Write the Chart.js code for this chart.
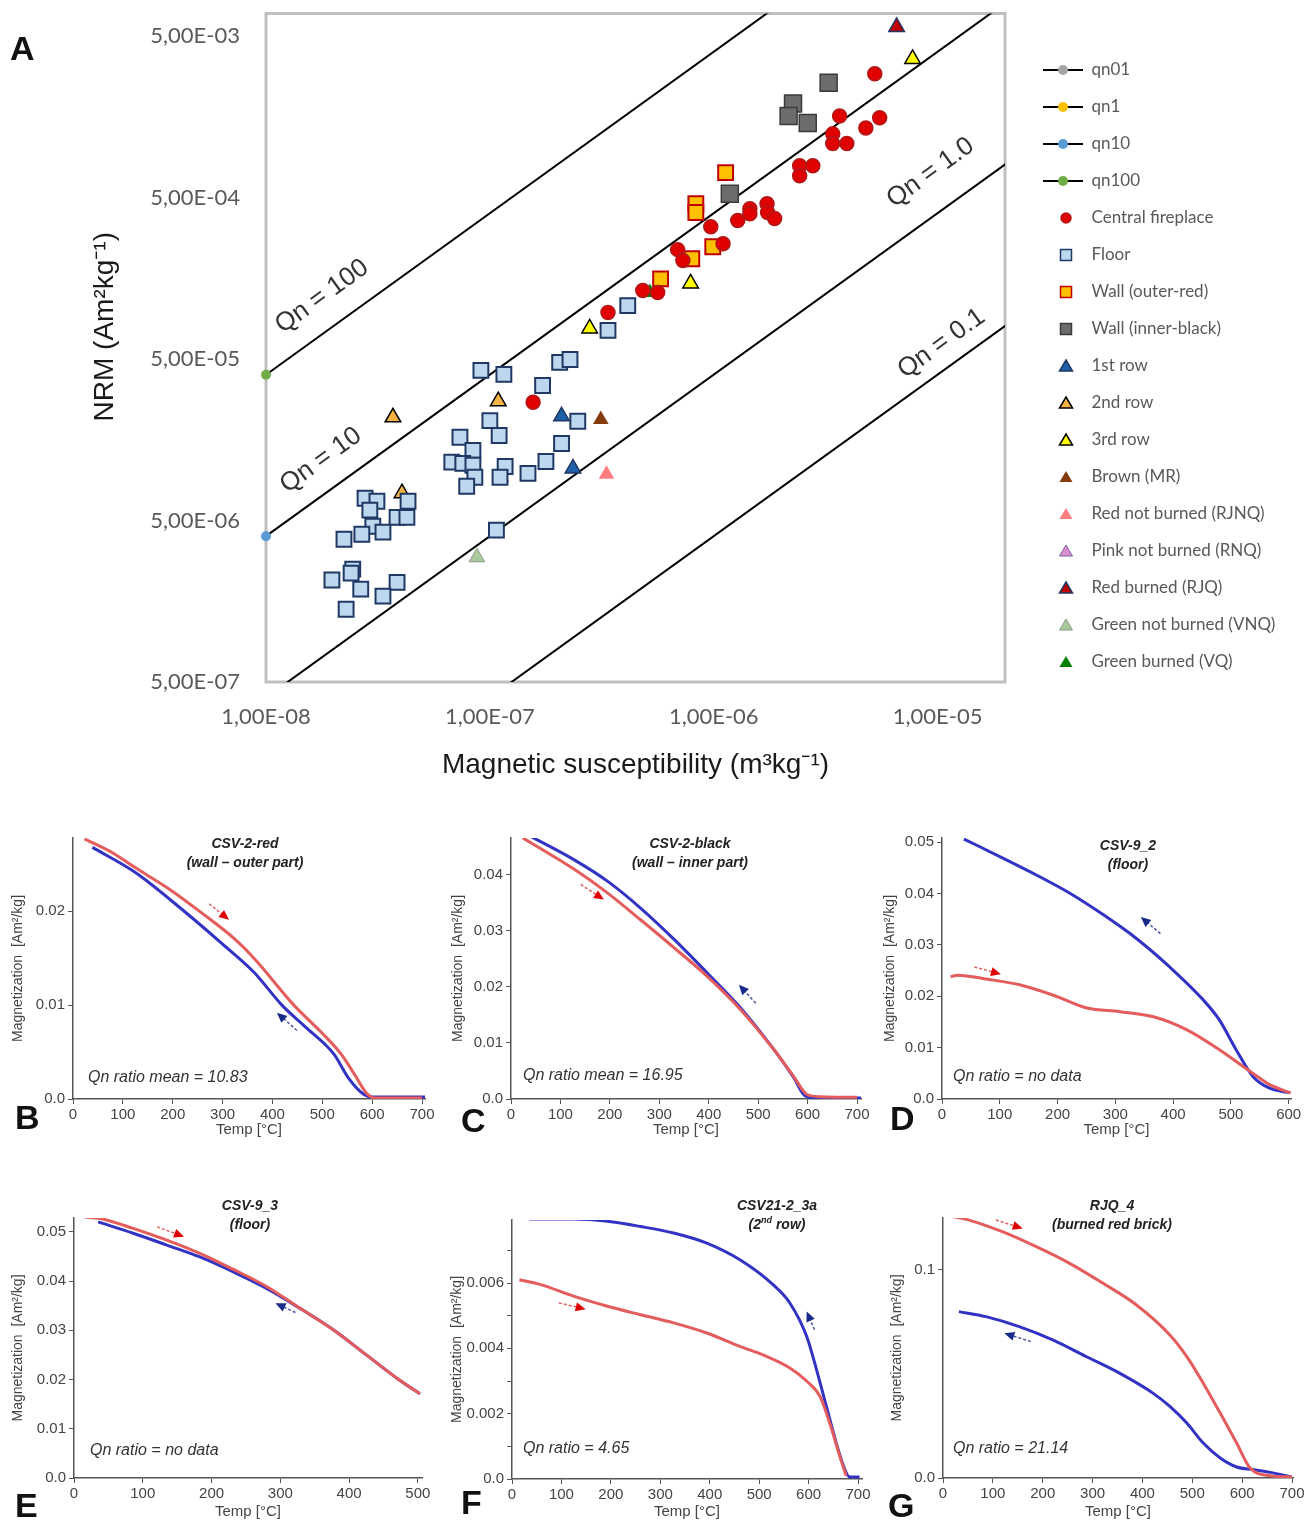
<!DOCTYPE html>
<html>
<head>
<meta charset="utf-8">
<script src="https://cdn.jsdelivr.net/npm/chart.js@4.4.1/dist/chart.umd.min.js"></script>
<style>
  body { margin: 0; background: #fff; font-family: "Liberation Sans", Arial, sans-serif; }
  #page { position: relative; width: 1311px; height: 1523px; overflow: hidden; }
  canvas { position: absolute; }
  .letter { position: absolute; font: bold 34px/34px "Liberation Sans", Arial, sans-serif; color: #111; }
  .sample { position: absolute; transform: translateX(-50%); font: italic bold 14px/19px "Liberation Sans", Arial, sans-serif; color: #222; text-align: center; white-space: nowrap; }
  .ratio { position: absolute; font: italic 16px/18px "Liberation Sans", Arial, sans-serif; color: #333; white-space: nowrap; }
</style>
</head>
<body>
<div id="page">
  <canvas id="chartA" width="1311" height="800" style="left:0px;top:0px"></canvas>
  <canvas id="chartB" width="440" height="320" style="left:0px;top:820px"></canvas>
  <canvas id="chartC" width="440" height="320" style="left:440px;top:820px"></canvas>
  <canvas id="chartD" width="441" height="320" style="left:870px;top:820px"></canvas>
  <canvas id="chartE" width="440" height="333" style="left:0px;top:1190px"></canvas>
  <canvas id="chartF" width="440" height="333" style="left:440px;top:1190px"></canvas>
  <canvas id="chartG" width="441" height="333" style="left:870px;top:1190px"></canvas>

  <div class="letter" style="left:10px;top:31px">A</div>
  <div class="letter" style="left:15px;top:1100px">B</div>
  <div class="letter" style="left:461px;top:1103px">C</div>
  <div class="letter" style="left:890px;top:1101px">D</div>
  <div class="letter" style="left:15px;top:1488px">E</div>
  <div class="letter" style="left:461px;top:1485px">F</div>
  <div class="letter" style="left:888px;top:1488px">G</div>

  <div class="sample" style="left:245px;top:834px">CSV-2-red<br>(wall – outer part)</div>
  <div class="sample" style="left:690px;top:834px">CSV-2-black<br>(wall – inner part)</div>
  <div class="sample" style="left:1128px;top:836px">CSV-9_2<br>(floor)</div>
  <div class="sample" style="left:250px;top:1196px">CSV-9_3<br>(floor)</div>
  <div class="sample" style="left:777px;top:1196px">CSV21-2_3a<br>(2<sup style="font-size:9px;line-height:0">nd</sup> row)</div>
  <div class="sample" style="left:1112px;top:1196px">RJQ_4<br>(burned red brick)</div>

  <div class="ratio" style="left:88px;top:1068px">Qn ratio mean = 10.83</div>
  <div class="ratio" style="left:523px;top:1066px">Qn ratio mean = 16.95</div>
  <div class="ratio" style="left:953px;top:1067px">Qn ratio = no data</div>
  <div class="ratio" style="left:90px;top:1441px">Qn ratio = no data</div>
  <div class="ratio" style="left:523px;top:1439px">Qn ratio = 4.65</div>
  <div class="ratio" style="left:953px;top:1439px">Qn ratio = 21.14</div>
</div>
<script>
// ---- panel A: magnetic susceptibility (m3/kg) vs NRM (Am2/kg)
const susceptibilityTicks = [1e-8, 1e-7, 1e-6, 1e-5];
const nrmTicks = [5e-7, 5e-6, 5e-5, 5e-4, 5e-3];

// Qn reference lines, end points [chi, NRM]
const qn01Line = [[1e-8, 4e-8], [1e-4, 4e-4]];
const qn1Line = [[1e-8, 4e-7], [1e-4, 4e-3]];
const qn10Line = [[1e-8, 4e-6], [1e-4, 4e-2]];
const qn100Line = [[1e-8, 4e-5], [1e-5, 4e-2]];

const centralFireplace = [
  [1.56e-7, 2.70e-5], [3.37e-7, 9.7e-5], [4.82e-7, 1.33e-4], [5.62e-7, 1.29e-4],
  [6.9e-7, 2.38e-4], [7.28e-7, 2.04e-4], [9.7e-7, 3.30e-4], [1.10e-6, 2.59e-4],
  [1.28e-6, 3.60e-4], [1.45e-6, 4.27e-4], [1.45e-6, 3.97e-4], [1.73e-6, 4.58e-4],
  [1.74e-6, 4.04e-4], [1.87e-6, 3.71e-4], [2.42e-6, 7.87e-4], [2.77e-6, 7.87e-4],
  [2.42e-6, 6.82e-4], [3.40e-6, 1.24e-3], [3.40e-6, 1.08e-3], [3.93e-6, 1.08e-3],
  [3.65e-6, 1.60e-3], [4.78e-6, 1.35e-3], [5.51e-6, 1.56e-3], [5.24e-6, 2.92e-3]
];
const floor = [
  [9.12e-8, 4.25e-5], [1.155e-7, 4.02e-5], [2.05e-7, 4.77e-5], [2.28e-7, 4.97e-5],
  [1.72e-7, 3.43e-5], [1.0e-7, 2.08e-5], [1.10e-7, 1.68e-5], [2.47e-7, 2.06e-5],
  [7.35e-8, 1.64e-5], [8.4e-8, 1.36e-5], [6.76e-8, 1.15e-5], [7.57e-8, 1.13e-5],
  [8.4e-8, 1.10e-5], [8.57e-8, 9.27e-6], [7.88e-8, 8.15e-6], [1.17e-7, 1.08e-5],
  [1.11e-7, 9.27e-6], [1.48e-7, 9.8e-6], [1.78e-7, 1.16e-5], [2.09e-7, 1.50e-5],
  [2.77e-8, 6.87e-6], [3.13e-8, 6.58e-6], [2.91e-8, 5.8e-6], [4.31e-8, 6.58e-6],
  [3.85e-8, 5.23e-6], [4.26e-8, 5.23e-6], [3.0e-8, 4.61e-6], [2.68e-8, 4.11e-6],
  [3.33e-8, 4.24e-6], [2.23e-8, 3.83e-6], [1.07e-7, 4.36e-6], [2.44e-8, 2.50e-6],
  [2.4e-8, 2.36e-6], [1.97e-8, 2.14e-6], [2.65e-8, 1.88e-6], [3.85e-8, 2.07e-6],
  [3.33e-8, 1.70e-6], [2.28e-8, 1.41e-6], [4.13e-7, 1.07e-4], [3.37e-7, 7.52e-5]
];
const wallOuterRed = [
  [1.13e-6, 7.13e-4], [8.32e-7, 4.58e-4], [8.32e-7, 4.04e-4], [9.9e-7, 2.48e-4],
  [7.98e-7, 2.09e-4], [5.79e-7, 1.57e-4]
];
const wallInnerBlack = [
  [3.26e-6, 2.57e-3], [2.26e-6, 1.91e-3], [2.16e-6, 1.60e-3], [2.63e-6, 1.45e-3], [1.18e-6, 5.28e-4]
];
const row1 = [[2.09e-7, 2.21e-5], [2.35e-7, 1.05e-5]];
const row2 = [[3.69e-8, 2.18e-5], [1.09e-7, 2.74e-5], [4.05e-8, 7.38e-6]];
const row3 = [[2.79e-7, 7.73e-5], [7.88e-7, 1.47e-4], [7.73e-6, 3.61e-3]];
const brownMR = [[3.13e-7, 2.11e-5]];
const redNotBurned = [[3.32e-7, 9.66e-6]];
const pinkNotBurned = [[1.12e-7, 9.27e-6]];
const redBurned = [[6.56e-6, 5.70e-3]];
const greenNotBurned = [[8.75e-8, 2.96e-6]];
const greenBurned = [[5.18e-7, 1.29e-4]];

// ---- panels B-G: thermomagnetic curves, temperature (°C) and magnetization (Am2/kg)
const temp700Ticks = [0, 100, 200, 300, 400, 500, 600, 700];
const temp600Ticks = [0, 100, 200, 300, 400, 500, 600];
const temp500Ticks = [0, 100, 200, 300, 400, 500];
const bMagTicks = [0, 0.01, 0.02];
const cMagTicks = [0, 0.01, 0.02, 0.03, 0.04];
const dMagTicks = [0, 0.01, 0.02, 0.03, 0.04, 0.05];
const eMagTicks = [0, 0.01, 0.02, 0.03, 0.04, 0.05];
const fMagTicks = [0, 0.001, 0.002, 0.003, 0.004, 0.005, 0.006, 0.007];
const gMagTicks = [0, 0.1];

const bHeatT = [23, 80, 123, 189, 256, 323, 363, 443, 500, 539, 566, 589, 605, 650, 700];
const bHeatM = [0.0277, 0.0262, 0.0247, 0.0225, 0.0199, 0.0171, 0.0150, 0.0100, 0.0070, 0.0047, 0.0025, 0.0006, 0.0001, 0.0001, 0.0001];
const bCoolT = [39, 123, 223, 300, 363, 419, 470, 523, 553, 583, 600, 650, 706];
const bCoolM = [0.0268, 0.0242, 0.0200, 0.0165, 0.0135, 0.0100, 0.0075, 0.0048, 0.0022, 0.0005, 0.0002, 0.0002, 0.0002];

const cHeatT = [24, 128, 195, 262, 330, 397, 464, 532, 572, 599, 626, 700];
const cHeatM = [0.0466, 0.0410, 0.0368, 0.0320, 0.0270, 0.0219, 0.0160, 0.0088, 0.0040, 0.0008, 0.0004, 0.0003];
const cCoolT = [42, 128, 195, 262, 330, 397, 464, 532, 572, 596, 620, 708];
const cCoolM = [0.0468, 0.0427, 0.0389, 0.0341, 0.0285, 0.0225, 0.0163, 0.0088, 0.0038, 0.0005, 0.0002, 0.0002];

const dHeatT = [15, 27, 79, 136, 193, 251, 308, 366, 423, 480, 538, 567, 603];
const dHeatM = [0.0238, 0.0241, 0.0233, 0.0222, 0.0202, 0.0177, 0.0170, 0.0160, 0.0135, 0.0096, 0.0050, 0.0028, 0.0012];
const dCoolT = [38, 107, 165, 222, 280, 337, 394, 452, 480, 509, 538, 567, 603];
const dCoolM = [0.0506, 0.0468, 0.0435, 0.0400, 0.0358, 0.0312, 0.0257, 0.0193, 0.0154, 0.0096, 0.0044, 0.0021, 0.0012];

const eHeatT = [16, 38, 86, 135, 183, 231, 280, 328, 377, 425, 473, 503];
const eHeatM = [0.0530, 0.0527, 0.0507, 0.0483, 0.0456, 0.0424, 0.0389, 0.0345, 0.0301, 0.0250, 0.0199, 0.0171];
const eCoolT = [35, 86, 135, 183, 231, 280, 328, 377, 425, 473, 503];
const eCoolM = [0.0520, 0.0497, 0.0473, 0.0449, 0.0419, 0.0385, 0.0345, 0.0301, 0.0250, 0.0199, 0.0171];

const fHeatT = [15, 58, 126, 193, 260, 327, 394, 461, 508, 562, 596, 623, 643, 663, 676];
const fHeatM = [0.0061, 0.00595, 0.00559, 0.00529, 0.00503, 0.00478, 0.00447, 0.00406, 0.0038, 0.0034, 0.0030, 0.00253, 0.0017, 0.0007, 0.0001];
const fCoolT = [35, 126, 193, 260, 327, 394, 461, 528, 562, 596, 616, 636, 656, 673, 683, 703];
const fCoolM = [0.00796, 0.00796, 0.00789, 0.00773, 0.00753, 0.00722, 0.00671, 0.00595, 0.00539, 0.00437, 0.00335, 0.00222, 0.0011, 0.0003, 0.00006, 0.00006];

const gHeatT = [15, 52, 119, 187, 254, 321, 388, 455, 489, 522, 556, 589, 616, 656, 700];
const gHeatM = [0.1259, 0.1240, 0.1184, 0.1112, 0.1032, 0.0936, 0.0832, 0.0688, 0.0584, 0.0456, 0.0312, 0.0168, 0.0048, 0.0011, 0.0005];
const gCoolT = [32, 86, 153, 220, 287, 354, 421, 455, 489, 522, 556, 589, 623, 656, 700];
const gCoolM = [0.0800, 0.0776, 0.0728, 0.0664, 0.0584, 0.0504, 0.0408, 0.0344, 0.0264, 0.0168, 0.0096, 0.0053, 0.0040, 0.0027, 0.0005];

const RED = '#E45C5C';
const BLUE = '#3232C4';

// "5e-7" -> "5,00E-07"
function sci(v) {
  const [m, e] = v.toExponential(2).split('e');
  const n = Math.abs(+e);
  return m.replace('.', ',') + 'E' + (+e < 0 ? '-' : '+') + (n < 10 ? '0' : '') + n;
}

const xy = pairs => pairs.map(p => ({x: p[0], y: p[1]}));

function qnSet(label, pairs, dot) {
  return {
    label: label, type: 'line', data: xy(pairs), order: 1,
    borderColor: '#000', borderWidth: 2, pointRadius: [5, 0],
    pointBackgroundColor: dot, pointBorderWidth: 0,
    clip: {left: 10, top: 0, right: 0, bottom: 0},
    icon: 'line', iconColor: dot
  };
}

function markSet(label, pairs, style, radius, fill, stroke, lw) {
  return {
    label: label, data: xy(pairs), pointStyle: style, pointRadius: radius,
    backgroundColor: fill, borderColor: stroke, borderWidth: lw,
    icon: style, iconColor: fill, iconStroke: stroke, iconLw: lw
  };
}

// legend marker: 58px wide, the first 18px left empty
const ICON_W = 58;
function legendIcon(ds) {
  const c = document.createElement('canvas');
  c.width = ICON_W; c.height = 18;
  const g = c.getContext('2d');
  if (ds.icon === 'line') {
    g.strokeStyle = '#000'; g.lineWidth = 2;
    g.beginPath(); g.moveTo(18, 9); g.lineTo(58, 9); g.stroke();
    g.fillStyle = ds.iconColor;
    g.beginPath(); g.arc(38, 9, 5, 0, Math.PI * 2); g.fill();
    return c;
  }
  g.fillStyle = ds.iconColor; g.strokeStyle = ds.iconStroke; g.lineWidth = Math.min(ds.iconLw, 1.5);
  g.beginPath();
  if (ds.icon === 'circle') g.arc(41, 9, 5, 0, Math.PI * 2);
  else if (ds.icon === 'rect') g.rect(35.5, 3.5, 11, 11);
  else { g.moveTo(41, 3); g.lineTo(47.5, 14); g.lineTo(34.5, 14); g.closePath(); }
  g.fill();
  if (ds.iconLw) g.stroke();
  return c;
}

const framePlugin = {
  id: 'frame',
  beforeDatasetsDraw(chart) {
    const a = chart.chartArea, g = chart.ctx;
    g.save();
    g.strokeStyle = '#BFBFBF'; g.lineWidth = 3;
    g.strokeRect(a.left, a.top, a.right - a.left, a.bottom - a.top);
    g.restore();
  }
};

const qnLabelPlugin = {
  id: 'qnLabels',
  afterDatasetsDraw(chart) {
    const g = chart.ctx, x = chart.scales.x, y = chart.scales.y;
    const ang = Math.atan2(y.getPixelForValue(1e-5) - y.getPixelForValue(1e-6),
                           x.getPixelForValue(1e-6) - x.getPixelForValue(1e-7));
    [['Qn = 100', 1.78e-8, 1.22e-4], ['Qn = 10', 1.76e-8, 1.18e-5],
     ['Qn = 1.0', 9.3e-6, 7.13e-4], ['Qn = 0.1', 1.04e-5, 6.24e-5]].forEach(l => {
      g.save();
      g.translate(x.getPixelForValue(l[1]), y.getPixelForValue(l[2]));
      g.rotate(ang);
      g.font = '26px "Liberation Sans", Arial, sans-serif';
      g.fillStyle = '#333'; g.textAlign = 'center'; g.textBaseline = 'middle';
      g.fillText(l[0], 0, 0);
      g.restore();
    });
  }
};

const datasetsA = [
  qnSet('qn01', qn01Line, '#A5A5A5'),
  qnSet('qn1', qn1Line, '#FFC000'),
  qnSet('qn10', qn10Line, '#5B9BD5'),
  qnSet('qn100', qn100Line, '#70AD47'),
  markSet('Central fireplace', centralFireplace, 'circle', 7, '#E00000', '#B01818', 1.5),
  markSet('Floor', floor, 'rect', 10.5, '#BDD7EE', '#1F3864', 2),
  markSet('Wall (outer-red)', wallOuterRed, 'rect', 10.5, '#FFC000', '#C00000', 2),
  markSet('Wall (inner-black)', wallInnerBlack, 'rect', 12, '#6E6B6B', '#3A3A3A', 1.5),
  markSet('1st row', row1, 'triangle', 9, '#1F5FA8', '#1F3864', 1.5),
  markSet('2nd row', row2, 'triangle', 9, '#F4B342', '#000000', 1.5),
  markSet('3rd row', row3, 'triangle', 9, '#FFFF00', '#000000', 1.5),
  markSet('Brown (MR)', brownMR, 'triangle', 9, '#843C0C', '#843C0C', 0),
  markSet('Red not burned (RJNQ)', redNotBurned, 'triangle', 9, '#FF7C80', '#FF7C80', 0),
  markSet('Pink not burned (RNQ)', pinkNotBurned, 'triangle', 9, '#D98ECF', '#8064A2', 1),
  markSet('Red burned (RJQ)', redBurned, 'triangle', 9, '#C00000', '#203864', 1.5),
  markSet('Green not burned (VNQ)', greenNotBurned, 'triangle', 9, '#A9C89B', '#8A9A8A', 1),
  markSet('Green burned (VQ)', greenBurned, 'triangle', 9, '#008000', '#008000', 0)
];

// legend width -> right padding, so the plot ends at x = 1005
const meas = document.createElement('canvas').getContext('2d');
meas.font = '17px Lato';
const widest = Math.max(...datasetsA.map(d => meas.measureText(d.label).width));
const padRight = Math.max(0, 1311 - 1005 - (20 + ICON_W + 8.5 + widest + 10));

new Chart(document.getElementById('chartA'), {
  type: 'scatter',
  data: {datasets: datasetsA},
  options: {
    responsive: false, animation: false, events: [],
    layout: {padding: {top: 12, right: padRight, bottom: 0, left: 0}},
    plugins: {
      tooltip: {enabled: false},
      legend: {
        position: 'right', align: 'start',
        title: {display: true, text: '', font: {size: 10}, padding: {top: 17.5, bottom: 0}},
        labels: {
          usePointStyle: true, pointStyleWidth: ICON_W, padding: 20,
          color: '#595959', font: {family: 'Lato', size: 17},
          generateLabels: chart => chart.data.datasets.map((ds, i) => ({
            text: ds.label, datasetIndex: i, pointStyle: legendIcon(ds),
            fillStyle: ds.iconColor, strokeStyle: ds.iconColor, lineWidth: 0,
            fontColor: '#595959', hidden: false
          }))
        }
      }
    },
    scales: {
      x: {
        type: 'logarithmic', min: 1e-8, max: 2e-5,
        grid: {display: false}, border: {display: false},
        afterBuildTicks: s => { s.ticks = susceptibilityTicks.map(v => ({value: v})); },
        afterFit: s => { s.height = 118; s.paddingLeft = 0; s.paddingRight = 0; },
        ticks: {autoSkip: false, maxRotation: 0, padding: 14, color: '#595959',
                font: {family: 'Lato', size: 22}, callback: v => sci(v)},
        title: {display: true, text: 'Magnetic susceptibility (m³kg⁻¹)', color: '#1a1a1a',
                font: {family: 'Liberation Sans', size: 28}, padding: {top: 0, bottom: 18}}
      },
      y: {
        type: 'logarithmic', min: 5e-7, max: 6.9e-3,
        grid: {display: false}, border: {display: false},
        afterBuildTicks: s => { s.ticks = nrmTicks.map(v => ({value: v})); },
        afterFit: s => { s.width = 266; s.paddingTop = 0; s.paddingBottom = 0; },
        ticks: {autoSkip: false, padding: 18, color: '#595959',
                font: {family: 'Lato', size: 22}, callback: v => sci(v)},
        title: {display: true, text: '\u2002\u2002\u2002NRM (Am²kg⁻¹)', color: '#1a1a1a',
                font: {family: 'Liberation Sans', size: 28}, padding: {top: 88, bottom: 0}}
      }
    }
  },
  plugins: [framePlugin, qnLabelPlugin]
});

// dashed direction arrows: [fromT, fromM, toT, toM, colour key]
function arrowPlugin(list) {
  return {
    id: 'arrows',
    afterDatasetsDraw(chart) {
      const g = chart.ctx, x = chart.scales.x, y = chart.scales.y;
      list.forEach(a => {
        const x1 = x.getPixelForValue(a[0]), y1 = y.getPixelForValue(a[1]);
        const x2 = x.getPixelForValue(a[2]), y2 = y.getPixelForValue(a[3]);
        const ang = Math.atan2(y2 - y1, x2 - x1), c = Math.cos(ang), s = Math.sin(ang);
        g.save();
        g.strokeStyle = a[4] === 'r' ? '#E06060' : '#4A55A0';
        g.fillStyle = a[4] === 'r' ? '#E00000' : '#1A2A8A';
        g.lineWidth = 1.5; g.setLineDash([3, 2]);
        g.beginPath(); g.moveTo(x1, y1); g.lineTo(x2 - 6 * c, y2 - 6 * s); g.stroke();
        g.setLineDash([]);
        g.beginPath(); g.moveTo(x2, y2);
        g.lineTo(x2 - 10 * c + 4.5 * s, y2 - 10 * s - 4.5 * c);
        g.lineTo(x2 - 10 * c - 4.5 * s, y2 - 10 * s + 4.5 * c);
        g.closePath(); g.fill();
        g.restore();
      });
    }
  };
}

const panels = [
  {id: 'chartB', heat: [bHeatT, bHeatM], cool: [bCoolT, bCoolM], xTicks: temp700Ticks, yTicks: bMagTicks,
   xMax: 706, yMax: 0.0278, yW: 73, xH: 41, top: 18, right: 15, yPad: 10, xPad: 1.6,
   arrows: [[273, 0.0208, 313, 0.0191, 'r'], [449, 0.0073, 409, 0.0092, 'b']]},
  {id: 'chartC', heat: [cHeatT, cHeatM], cool: [cCoolT, cCoolM], xTicks: temp700Ticks, yTicks: cMagTicks,
   xMax: 708, yMax: 0.0466, yW: 71, xH: 41, top: 18, right: 19, yPad: 10, xPad: 1.6,
   arrows: [[141, 0.0383, 188, 0.0356, 'r'], [495, 0.0171, 461, 0.0204, 'b']]},
  {id: 'chartD', heat: [dHeatT, dHeatM], cool: [dCoolT, dCoolM], xTicks: temp600Ticks, yTicks: dMagTicks,
   xMax: 604, yMax: 0.0508, yW: 72, xH: 41, top: 18, right: 20, yPad: 12, xPad: 1.6,
   arrows: [[56, 0.0257, 102, 0.0243, 'r'], [378, 0.0322, 344, 0.0354, 'b']]},
  {id: 'chartE', heat: [eHeatT, eHeatM], cool: [eCoolT, eCoolM], xTicks: temp500Ticks, yTicks: eMagTicks,
   xMax: 506, yMax: 0.0528, yW: 74, xH: 45, top: 28, right: 18, yPad: 10, xPad: 2.6,
   arrows: [[121, 0.0510, 160, 0.0490, 'r'], [322, 0.0336, 293, 0.0355, 'b']]},
  {id: 'chartF', heat: [fHeatT, fHeatM], cool: [fCoolT, fCoolM], xTicks: temp700Ticks, yTicks: fMagTicks,
   xMax: 708, yMax: 0.00793, yW: 72, xH: 44, top: 30, right: 18, yPad: 9, xPad: 2.6, evenOnly: true,
   arrows: [[95, 0.00539, 149, 0.0052, 'r'], [612, 0.00457, 596, 0.00513, 'b']]},
  {id: 'chartG', heat: [gHeatT, gHeatM], cool: [gCoolT, gCoolM], xTicks: temp700Ticks, yTicks: gMagTicks,
   xMax: 702, yMax: 0.125, yW: 73, xH: 45, top: 28, right: 18, yPad: 19, xPad: 2.6,
   arrows: [[106, 0.124, 160, 0.120, 'r'], [176, 0.0656, 123, 0.0696, 'b']]}
];

function curve(tm, colour) {
  return {
    data: tm[0].map((t, i) => ({x: t, y: tm[1][i]})),
    borderColor: colour, borderWidth: 3, pointRadius: 0,
    cubicInterpolationMode: 'monotone', fill: false
  };
}

function yLabel(v, i, p) {
  if (Math.abs(v) < 1e-9) return '0.0';
  if (p.evenOnly && i % 2) return '';
  return String(+v.toFixed(4));
}

panels.forEach(p => {
  new Chart(document.getElementById(p.id), {
    type: 'line',
    data: {datasets: [curve(p.heat, RED), curve(p.cool, BLUE)]},
    options: {
      responsive: false, animation: false, events: [],
      layout: {padding: {top: p.top, right: p.right, bottom: 0, left: 0}},
      plugins: {legend: {display: false}, tooltip: {enabled: false}},
      scales: {
        x: {
          type: 'linear', min: 0, max: p.xMax,
          grid: {drawOnChartArea: false, drawTicks: true, tickLength: 5, color: '#555'},
          border: {display: true, color: '#555', width: 1.5},
          afterBuildTicks: s => { s.ticks = p.xTicks.map(v => ({value: v})); },
          afterFit: s => { s.height = p.xH; s.paddingLeft = 0; s.paddingRight = 0; },
          ticks: {autoSkip: false, maxRotation: 0, padding: 2, color: '#444',
                  font: {family: 'Liberation Sans', size: 15}},
          title: {display: true, text: 'Temp [°C]', color: '#444',
                  font: {family: 'Liberation Sans', size: 15}, padding: {top: 0, bottom: p.xPad}}
        },
        y: {
          type: 'linear', min: 0, max: p.yMax,
          grid: {drawOnChartArea: false, drawTicks: true, tickLength: 5, color: '#555'},
          border: {display: true, color: '#555', width: 1.5},
          afterBuildTicks: s => { s.ticks = p.yTicks.map(v => ({value: v})); },
          afterFit: s => { s.width = p.yW; s.paddingTop = 0; s.paddingBottom = 0; },
          ticks: {autoSkip: false, padding: 3, color: '#444',
                  font: {family: 'Liberation Sans', size: 15}, callback: (v, i) => yLabel(v, i, p)},
          title: {display: true, text: 'Magnetization  [Am²/kg]', color: '#444',
                  font: {family: 'Liberation Sans', size: 14}, padding: {top: p.yPad, bottom: 0}}
        }
      }
    },
    plugins: [arrowPlugin(p.arrows)]
  });
});
</script>
</body>
</html>
